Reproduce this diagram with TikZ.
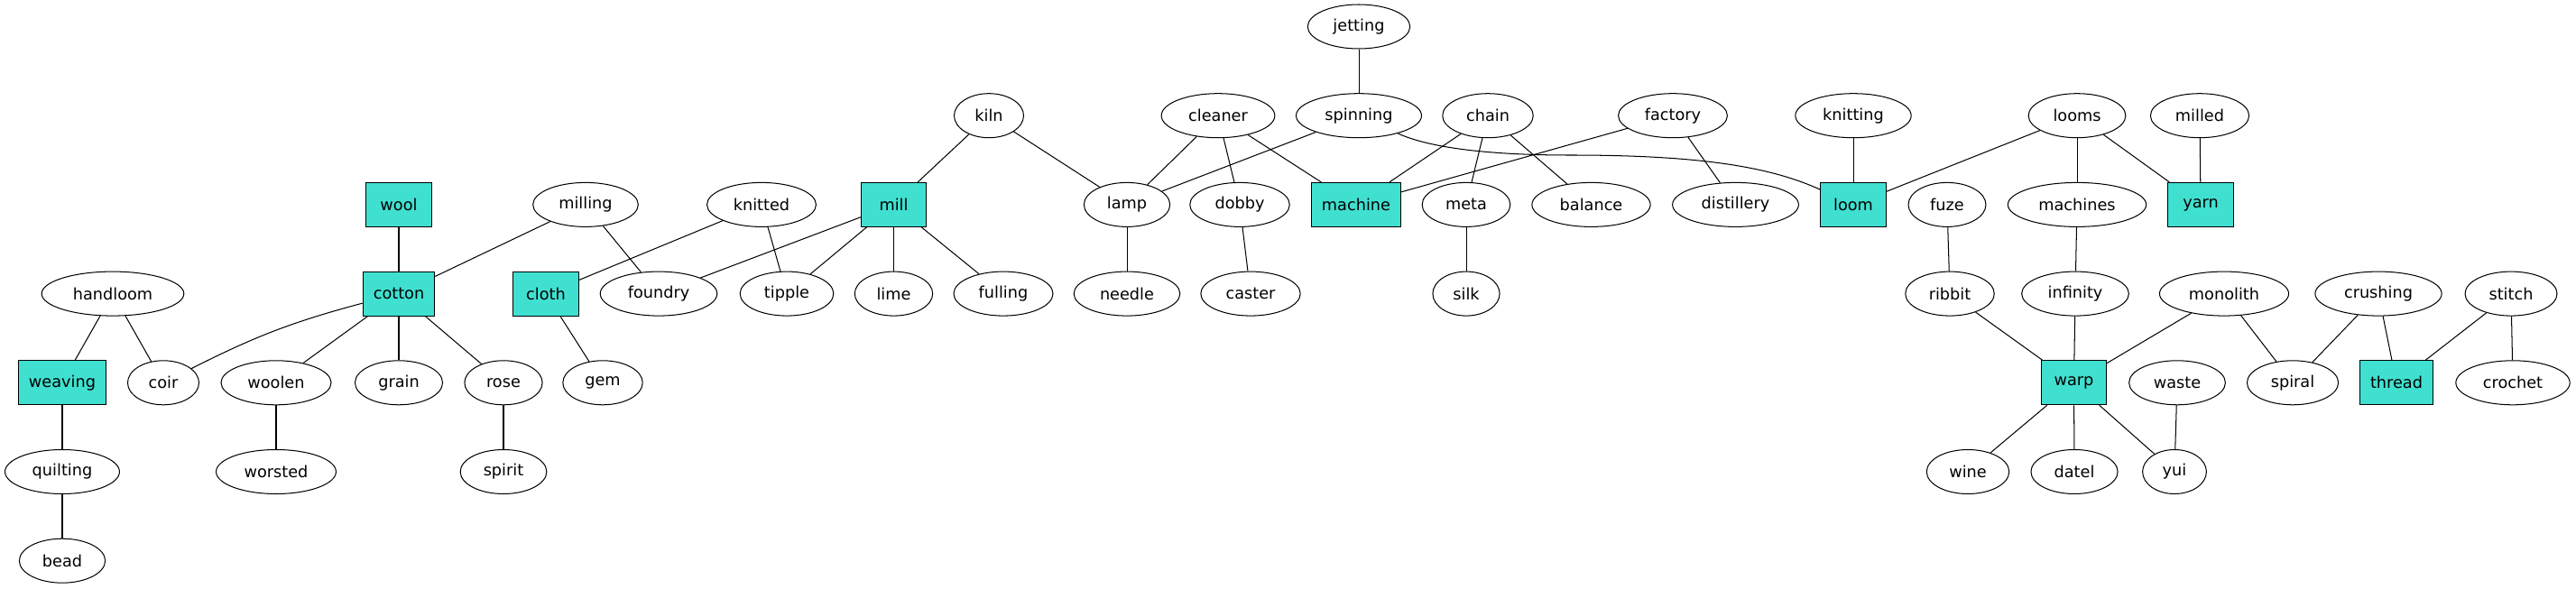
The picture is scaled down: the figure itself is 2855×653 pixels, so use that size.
\documentclass[tikz,border=0pt]{standalone}
\usepackage{fontspec}
\setmainfont{DejaVu Sans}
\usepackage{xcolor}
\usetikzlibrary{shapes}
\definecolor{turq}{HTML}{40E0D0}
\tikzset{word/.style={ellipse,draw,line width=0.75pt,minimum height=36pt,minimum width=52pt,inner xsep=8.5pt,inner ysep=2pt,font=\fontsize{13pt}{15pt}\selectfont}}
\tikzset{hub/.style={rectangle,draw,fill=turq,line width=0.75pt,minimum height=36pt,minimum width=53pt,inner xsep=8.5pt,inner ysep=2pt,font=\fontsize{13pt}{15pt}\selectfont}}

\begin{document}
\begin{tikzpicture}[x=0.7347pt,y=-0.7347pt,line width=0.75pt]
    \useasboundingbox (0,0) rectangle (2855,653);

    \node[word] (jetting) at (1506,29.5) {jetting};

    \node[word] (kiln) at (1096,128.2) {kiln};
    \node[word] (cleaner) at (1350,128.2) {cleaner};
    \node[word] (spinning) at (1506,128.2) {spinning};
    \node[word] (chain) at (1649,128.2) {chain};
    \node[word] (factory) at (1854,128.2) {factory};
    \node[word] (knitting) at (2054,128.2) {knitting};
    \node[word] (looms) at (2302,128.2) {looms};
    \node[word] (milled) at (2438,128.2) {milled};

    \node[hub] (wool) at (442,226.9) {wool};
    \node[word] (milling) at (649,226.9) {milling};
    \node[word] (knitted) at (844,226.9) {knitted};
    \node[hub] (mill) at (990.5,226.9) {mill};
    \node[word] (lamp) at (1249,226.9) {lamp};
    \node[word] (dobby) at (1374,226.9) {dobby};
    \node[hub] (machine) at (1503,226.9) {machine};
    \node[word] (meta) at (1625,226.9) {meta};
    \node[word] (balance) at (1763.5,226.9) {balance};
    \node[word] (distillery) at (1923.5,226.9) {distillery};
    \node[hub] (loom) at (2054,226.9) {loom};
    \node[word] (fuze) at (2158,226.9) {fuze};
    \node[word] (machines) at (2302,226.9) {machines};
    \node[hub] (yarn) at (2439,226.9) {yarn};

    \node[word] (handloom) at (125,325.6) {handloom};
    \node[hub] (cotton) at (442,325.6) {cotton};
    \node[hub] (cloth) at (605,325.6) {cloth};
    \node[word] (foundry) at (730,325.6) {foundry};
    \node[word] (tipple) at (872,325.6) {tipple};
    \node[word] (lime) at (990.5,325.6) {lime};
    \node[word] (fulling) at (1112,325.6) {fulling};
    \node[word] (needle) at (1249,325.6) {needle};
    \node[word] (caster) at (1386,325.6) {caster};
    \node[word] (silk) at (1625,325.6) {silk};
    \node[word] (ribbit) at (2161,325.6) {ribbit};
    \node[word] (infinity) at (2300,325.6) {infinity};
    \node[word] (monolith) at (2465,325.6) {monolith};
    \node[word] (crushing) at (2636,325.6) {crushing};
    \node[word] (stitch) at (2783,325.6) {stitch};

    \node[hub] (weaving) at (69,424.3) {weaving};
    \node[word] (coir) at (181,424.3) {coir};
    \node[word] (woolen) at (306,424.3) {woolen};
    \node[word] (grain) at (442,424.3) {grain};
    \node[word] (rose) at (558,424.3) {rose};
    \node[word] (gem) at (668,424.3) {gem};
    \node[hub] (warp) at (2298.5,424.3) {warp};
    \node[word] (waste) at (2413,424.3) {waste};
    \node[word] (spiral) at (2541,424.3) {spiral};
    \node[hub] (thread) at (2656,424.3) {thread};
    \node[word] (crochet) at (2785,424.3) {crochet};

    \node[word] (quilting) at (69,523) {quilting};
    \node[word] (worsted) at (306,523) {worsted};
    \node[word] (spirit) at (558,523) {spirit};
    \node[word] (wine) at (2181,523) {wine};
    \node[word] (datel) at (2299,523) {datel};
    \node[word] (yui) at (2410,523) {yui};

    \node[word] (bead) at (69,621.7) {bead};

    \draw [] (jetting) to [] (spinning);
    \draw [] (kiln) to [] (mill);
    \draw [] (kiln) to [] (lamp);
    \draw [] (cleaner) to [] (lamp);
    \draw [] (cleaner) to [] (dobby);
    \draw [] (cleaner) to [] (machine);
    \draw [] (spinning) to [] (lamp);
    \draw [] (spinning) .. controls (1580,162) and (1640,172) .. (1740,172) .. controls (1880,172) and (1960,184) .. (loom);
    \draw [] (chain) to [] (machine);
    \draw [] (chain) to [] (meta);
    \draw [] (chain) to [] (balance);
    \draw [] (factory) to [] (machine);
    \draw [] (factory) to [] (distillery);
    \draw [] (knitting) to [] (loom);
    \draw [] (looms) to [] (loom);
    \draw [] (looms) to [] (machines);
    \draw [] (looms) to [] (yarn);
    \draw [] (milled) to [] (yarn);
    \draw [] (wool) to [] (cotton);
    \draw [] (milling) to [] (cotton);
    \draw [] (milling) to [] (foundry);
    \draw [] (knitted) to [] (cloth);
    \draw [] (knitted) to [] (tipple);
    \draw [] (mill) to [] (foundry);
    \draw [] (mill) to [] (tipple);
    \draw [] (mill) to [] (lime);
    \draw [] (mill) to [] (fulling);
    \draw [] (lamp) to [] (needle);
    \draw [] (dobby) to [] (caster);
    \draw [] (meta) to [] (silk);
    \draw [] (fuze) to [] (ribbit);
    \draw [] (machines) to [] (infinity);
    \draw [] (handloom) to [] (weaving);
    \draw [] (handloom) to [] (coir);
    \draw [] (cotton) to [bend right=6] (coir);
    \draw [] (cotton) to [] (woolen);
    \draw [] (cotton) to [] (grain);
    \draw [] (cotton) to [] (rose);
    \draw [] (cloth) to [] (gem);
    \draw [] (ribbit) to [] (warp);
    \draw [] (infinity) to [] (warp);
    \draw [] (monolith) to [] (warp);
    \draw [] (monolith) to [] (spiral);
    \draw [] (crushing) to [] (spiral);
    \draw [] (crushing) to [] (thread);
    \draw [] (stitch) to [] (thread);
    \draw [] (stitch) to [] (crochet);
    \draw [] (weaving) to [] (quilting);
    \draw [] (woolen) to [] (worsted);
    \draw [] (rose) to [] (spirit);
    \draw [] (warp) to [] (wine);
    \draw [] (warp) to [] (datel);
    \draw [] (warp) to [] (yui);
    \draw [] (waste) to [] (yui);
    \draw [] (quilting) to [] (bead);
\end{tikzpicture}
\end{document}
